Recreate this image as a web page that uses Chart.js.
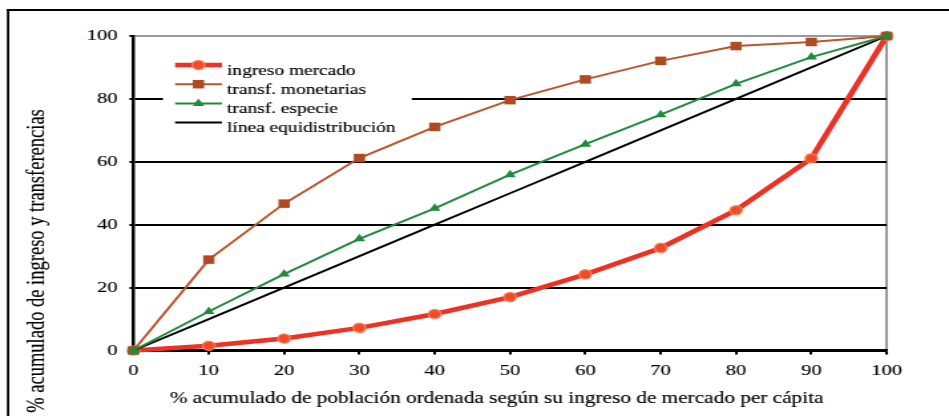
<!DOCTYPE html>
<html>
<head>
<meta charset="utf-8">
<title>Curvas de concentración</title>
<script src="https://cdn.jsdelivr.net/npm/chart.js@4/dist/chart.umd.min.js"></script>
<style>
  html, body { margin: 0; padding: 0; background: #fff; overflow: hidden; }
</style>
</head>
<body>
<!-- the original picture is stretched sideways, so the canvas is drawn narrower and widened by css -->
<canvas id="lorenzChart" width="714" height="416" style="width:949px;height:416px;display:block"></canvas>
<script>
  // % acumulado de población (eje x)
  const poblacion = [0, 10, 20, 30, 40, 50, 60, 70, 80, 90, 100];

  // % acumulado de ingreso y transferencias
  const ingresoMercado   = [0, 1.5, 3.8, 7.2, 11.6, 17.0, 24.2, 32.6, 44.6, 61.1, 100];
  const transfMonetarias = [0, 28.9, 46.7, 61.2, 71.1, 79.6, 86.2, 92.1, 96.8, 98.1, 100];
  const transfEspecie    = [0, 12.4, 24.3, 35.5, 45.2, 55.9, 65.6, 75.0, 84.8, 93.3, 100];
  const equidistribucion = [0, 10, 20, 30, 40, 50, 60, 70, 80, 90, 100];

  // tick labels
  const xTicks = [0, 10, 20, 30, 40, 50, 60, 70, 80, 90, 100];
  const yTicks = [0, 20, 40, 60, 80, 100];

  const xTitle = '% acumulado de población ordenada según su ingreso de mercado per cápita';
  const yTitle = '% acumulado de ingreso y transferencias';

  const serif = 'Liberation Serif, Times New Roman, serif';
  const toPoints = arr => arr.map((v, i) => ({ x: poblacion[i], y: v }));

  // a hairline stroke so the thin serif text looks as dark as the scanned one
  function inkText(ctx, text, x, y) {
    ctx.fillText(text, x, y);
    ctx.lineWidth = 0.15;
    ctx.strokeStyle = '#000';
    ctx.strokeText(text, x, y);
  }

  // white background, outer frame and both axis titles
  const frameAndTitles = {
    id: 'frameAndTitles',
    beforeDraw(chart) {
      const ctx = chart.ctx;
      ctx.save();
      ctx.fillStyle = '#fff';
      ctx.fillRect(0, 0, chart.width, chart.height);
      ctx.fillStyle = '#000';
      ctx.fillRect(5.2, 9, chart.width, 2);
      ctx.fillRect(5.2, 9, 1.8, chart.height);
      ctx.restore();
    },
    afterDraw(chart) {
      const ctx = chart.ctx;
      ctx.save();
      ctx.fillStyle = '#000';
      ctx.textAlign = 'center';
      ctx.textBaseline = 'middle';
      ctx.font = '16px ' + serif;
      inkText(ctx, xTitle, 373.6, 398.5);
      ctx.translate(27.8, 261);
      ctx.rotate(-Math.PI / 2);
      ctx.font = '18.5px ' + serif;
      inkText(ctx, yTitle, 0, 0);
      ctx.restore();
    }
  };

  // legend inside the plot, on a white box, line sample + marker
  const boxLegend = {
    id: 'boxLegend',
    afterDraw(chart) {
      const ctx = chart.ctx;
      ctx.save();
      ctx.fillStyle = '#fff';
      ctx.fillRect(122.6, 52, 187.2, 82);
      chart.data.datasets.forEach((ds, i) => {
        const y = 65 + i * 19.2;
        ctx.strokeStyle = ds.borderColor;
        ctx.lineWidth = ds.borderWidth;
        ctx.beginPath();
        ctx.moveTo(131.7, y);
        ctx.lineTo(167, y);
        ctx.stroke();
        if (ds.pointRadius > 0) {
          ctx.fillStyle = ds.pointBackgroundColor;
          ctx.strokeStyle = ds.pointBorderColor;
          ctx.lineWidth = ds.pointBorderWidth;
          Chart.helpers.drawPoint(ctx, {
            pointStyle: ds.pointStyle,
            radius: ds.pointRadius,
            rotation: 0,
            borderWidth: ds.pointBorderWidth
          }, 149.3, y);
        }
        ctx.fillStyle = '#000';
        ctx.font = '14.6px ' + serif;
        ctx.textAlign = 'left';
        ctx.textBaseline = 'alphabetic';
        inkText(ctx, ds.label, 170.8, y + 9.5);
      });
      ctx.restore();
    }
  };

  const ctx = document.getElementById('lorenzChart').getContext('2d');
  const lorenzChart = new Chart(ctx, {
    type: 'line',
    data: {
      datasets: [
        {
          label: 'ingreso mercado',
          data: toPoints(ingresoMercado),
          borderColor: '#ee3124',
          borderWidth: 4.5,
          pointStyle: 'circle',
          pointRadius: 4.6,
          pointBackgroundColor: '#f04a2a',
          pointBorderColor: 'rgba(247,130,85,0.85)',
          pointBorderWidth: 1.5,
          order: 4
        },
        {
          label: 'transf. monetarias',
          data: toPoints(transfMonetarias),
          borderColor: '#bb552b',
          borderWidth: 2,
          pointStyle: 'rect',
          pointRadius: 6,
          pointBackgroundColor: '#b04a22',
          pointBorderColor: '#b04a22',
          pointBorderWidth: 0,
          order: 3
        },
        {
          label: 'transf. especie',
          data: toPoints(transfEspecie),
          borderColor: '#228a3f',
          borderWidth: 2,
          pointStyle: 'triangle',
          pointRadius: 5,
          pointBackgroundColor: '#1e8a3c',
          pointBorderColor: '#1e8a3c',
          pointBorderWidth: 0,
          order: 1
        },
        {
          label: 'línea equidistribución',
          data: toPoints(equidistribucion),
          borderColor: '#000',
          borderWidth: 2,
          pointRadius: 0,
          order: 2
        }
      ]
    },
    options: {
      responsive: false,
      devicePixelRatio: 1,
      animation: false,
      datasets: {
        line: { tension: 0, fill: false, clip: false }
      },
      layout: {
        padding: { left: 0, right: 46.9, top: 36, bottom: 0 }
      },
      plugins: {
        legend: { display: false },
        tooltip: { enabled: false }
      },
      scales: {
        x: {
          type: 'linear',
          min: 0,
          max: 100,
          afterBuildTicks: scale => { scale.ticks = xTicks.map(v => ({ value: v })); },
          afterFit: scale => { scale.height = 65.5; },
          border: { color: '#000', width: 2.5 },
          grid: {
            color: c => (c.tick && c.tick.value === 100) ? '#9a9a9a' : 'rgba(0,0,0,0)',
            lineWidth: 2,
            tickColor: '#000',
            tickLength: 4
          },
          ticks: {
            color: '#000',
            font: { family: serif, size: 15.5 },
            textStrokeColor: '#000',
            textStrokeWidth: 0.15,
            padding: 7,
            maxRotation: 0,
            autoSkip: false
          }
        },
        y: {
          min: 0,
          max: 100,
          afterBuildTicks: scale => { scale.ticks = yTicks.map(v => ({ value: v })); },
          afterFit: scale => { scale.width = 100.4; },
          border: { color: '#000', width: 2.5 },
          grid: {
            color: c => (c.tick && c.tick.value === 100) ? '#9a9a9a' : '#000',
            lineWidth: 2,
            tickColor: '#000',
            tickLength: 3
          },
          ticks: {
            color: '#000',
            font: { family: serif, size: 15.5 },
            textStrokeColor: '#000',
            textStrokeWidth: 0.15,
            padding: 9
          }
        }
      }
    },
    plugins: [frameAndTitles, boxLegend]
  });
</script>
</body>
</html>
